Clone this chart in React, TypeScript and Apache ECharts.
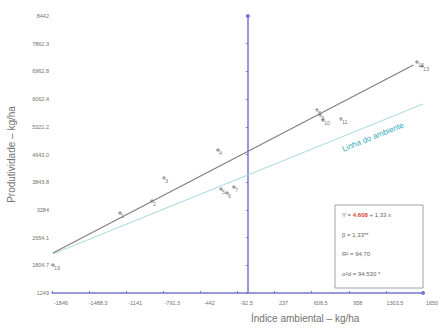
import React, { useEffect, useRef } from "react";
import * as echarts from "echarts";

const X_MIN = -1845;
const X_MAX = 1650;
const X_STEP = 349.5;
const Y_MIN = 1249;
const Y_MAX = 8442;
const Y_STEP = 719.3;

const xTickLabels = ["-1846", "-1488.3", "-1141", "-791.3", "-442", "-92.5", "237", "608.5", "958", "1303.5", "1650"];
const yTickLabels = ["1249", "1804.7", "2654.1", "3284", "3843.8", "4643.0", "5321.2", "6062.4", "6962.8", "7862.3", "8442"];

const genotypes = ["19", "1", "2", "3", "4", "5", "6", "7", "8", "9", "10", "11", "12", "13"];
const indexValues = [-1836, -1204, -903, -790, -281, -253, -196, -131, 651, 680, 708, 877, 1593, 1640];
const yieldValues = [1976, 3327, 3638, 4236, 4963, 3950, 3846, 4002, 6002, 5872, 5742, 5768, 7248, 7144];

const regressionX = [-1836, 1560];
const regressionY = [2288, 7170];
const environmentX = [-1836, 1650];
const environmentY = [2262, 6157];

const AXIS_COLOR = "#7676d4";
const TEXT_COLOR = "#727272";
const FONT = "Liberation Sans, Arial, sans-serif";

export default function App() {
  const ref = useRef<HTMLDivElement>(null);
  useEffect(() => {
    if (!ref.current) return;
    document.body.style.margin = "0";
    const chart = echarts.init(ref.current, undefined, { renderer: "svg" });
    const points = indexValues.map((x, i) => ({ name: genotypes[i], value: [x, yieldValues[i]] }));
    chart.setOption({
      animation: false,
      backgroundColor: "#ffffff",
      textStyle: { fontFamily: FONT },
      grid: { left: 52, right: 17, top: 16, bottom: 36, outerBoundsMode: "none" },
      xAxis: {
        type: "value",
        min: X_MIN,
        max: X_MAX,
        interval: X_STEP,
        splitLine: { show: false },
        axisLine: { show: true, onZero: false, lineStyle: { color: AXIS_COLOR, width: 1.5 }, symbol: ["none", "circle"], symbolSize: [4, 4] },
        axisTick: { show: true, inside: true, length: 2, lineStyle: { color: AXIS_COLOR } },
        axisLabel: {
          fontSize: 5.5,
          color: TEXT_COLOR,
          margin: 7,
          padding: [0, 0, 0, 18],
          formatter: (v: number) => xTickLabels[Math.round((v - X_MIN) / X_STEP)] ?? "",
        },
      },
      yAxis: [
        {
          type: "value",
          min: Y_MIN,
          max: Y_MAX,
          interval: Y_STEP,
          splitLine: { show: false },
          axisLine: { show: false },
          axisTick: { show: false },
          axisLabel: {
            fontSize: 5.5,
            color: TEXT_COLOR,
            margin: 3,
            padding: [9, 0, 0, 0],
            formatter: (v: number) => yTickLabels[Math.round((v - Y_MIN) / Y_STEP)] ?? "",
          },
          name: "Produtividade – kg/ha",
          nameLocation: "middle",
          nameRotate: 90,
          nameGap: 36,
          nameTextStyle: { fontSize: 10, color: TEXT_COLOR },
        },
        {
          type: "value",
          position: "left",
          min: Y_MIN,
          max: Y_MAX,
          interval: Y_STEP,
          splitLine: { show: false },
          axisLine: { show: true, onZero: true, onZeroAxisIndex: 0, lineStyle: { color: AXIS_COLOR, width: 1.5 }, symbol: ["none", "circle"], symbolSize: [4, 4] },
          axisTick: { show: true, length: 2, lineStyle: { color: AXIS_COLOR } },
          axisLabel: { show: false },
        },
      ],
      graphic: [
        {
          type: "text",
          left: 251,
          top: 313,
          style: { text: "Índice ambiental – kg/ha", fontSize: 10, fill: TEXT_COLOR, fontFamily: FONT, align: "center" },
        },
        {
          type: "rect",
          shape: { x: 335, y: 205, width: 88, height: 83 },
          style: { fill: "#ffffff", stroke: "#8a8a8a", lineWidth: 0.8 },
          z: 10,
        },
        {
          type: "text",
          x: 342,
          y: 212,
          z: 11,
          style: {
            text: "{a|Y = }{r|4.608}{a| + 1,33 x}",
            rich: {
              a: { fontSize: 6, fill: "#666", fontFamily: FONT },
              r: { fontSize: 6, fill: "#e0443a", fontFamily: FONT, fontWeight: "bold" },
            },
          },
        },
        { type: "text", x: 342, y: 232, z: 11, style: { text: "β = 1,33**", fontSize: 6, fill: "#666", fontFamily: FONT } },
        { type: "text", x: 342, y: 251, z: 11, style: { text: "R² = 94,70", fontSize: 6, fill: "#666", fontFamily: FONT } },
        { type: "text", x: 342, y: 271, z: 11, style: { text: "σ²d = 94.530 *", fontSize: 6, fill: "#666", fontFamily: FONT } },
        {
          type: "text",
          x: 373,
          y: 137,
          rotation: (22 * Math.PI) / 180,
          style: { text: "Linha do ambiente", fontSize: 8, fill: "#35a9bd", fontFamily: FONT, align: "center", verticalAlign: "middle" },
        },
      ],
      series: [
        {
          type: "line",
          data: environmentX.map((x, i) => [x, environmentY[i]]),
          symbol: "none",
          lineStyle: { color: "#a8d8e0", width: 1 },
          silent: true,
        },
        {
          type: "line",
          data: regressionX.map((x, i) => [x, regressionY[i]]),
          symbol: "none",
          lineStyle: { color: "#857a7a", width: 1.1 },
          silent: true,
        },
        {
          type: "scatter",
          data: points,
          symbol: "path://M4,0h2v4h4v2h-4v4h-2v-4h-4v-2h4z",
          symbolSize: 4,
          itemStyle: { color: "#555555" },
          label: {
            show: true,
            formatter: (p: any) => p.name,
            position: [3, 2],
            fontSize: 5.5,
            color: "#555555",
          },
        },
      ],
    });
    return () => chart.dispose();
  }, []);
  return <div ref={ref} style={{ width: 440, height: 329 }} />;
}
